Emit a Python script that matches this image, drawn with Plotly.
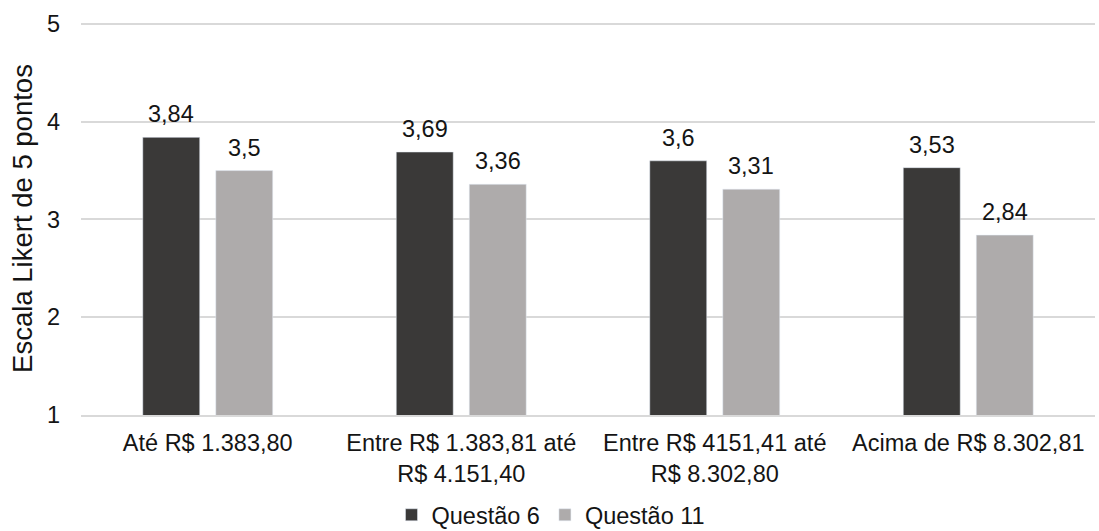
import plotly.graph_objects as go

categories = ["Até R$ 1.383,80", "Entre R$ 1.383,81 até<br>R$ 4.151,40",
              "Entre R$ 4151,41 até<br>R$ 8.302,80", "Acima de R$ 8.302,81"]
questao6 = [3.84, 3.69, 3.6, 3.53]
questao11 = [3.5, 3.36, 3.31, 2.84]
labels6 = ["3,84", "3,69", "3,6", "3,53"]
labels11 = ["3,5", "3,36", "3,31", "2,84"]

font = "Liberation Sans, Arial, sans-serif"
text_color = "#141414"
dark, light = "#3a3938", "#aeabab"

# plot geometry (pixels) used for bar slots and value-label offsets
width, height = 1099, 531
m_l, m_r, m_t, m_b = 81, 4, 22, 116
bargap, bargroupgap = 0.424, 0.22
cat_w = (width - m_l - m_r) / len(categories)
slot = cat_w * (1 - bargap) / 2

fig = go.Figure()
fig.add_trace(go.Bar(name="Questão 6", x=categories, y=questao6, marker_color=dark))
fig.add_trace(go.Bar(name="Questão 11", x=categories, y=questao11, marker_color=light))

# value labels above each bar
for vals, labs, sign in ((questao6, labels6, -1), (questao11, labels11, 1)):
    for c, v, t in zip(categories, vals, labs):
        fig.add_annotation(x=c, y=v, text=t, showarrow=False, xref="x", yref="y",
                           xshift=sign * slot / 2, yanchor="bottom", yshift=8,
                           font=dict(size=23.5, color=text_color, family=font))

fig.update_layout(
    width=width, height=height,
    margin=dict(l=m_l, r=m_r, t=m_t, b=m_b, autoexpand=False),
    plot_bgcolor="white", paper_bgcolor="white",
    font=dict(family=font, size=23.5, color=text_color),
    barmode="group", bargap=bargap, bargroupgap=bargroupgap,
    showlegend=True,
    legend=dict(orientation="h", x=0.4635, xanchor="center", xref="paper",
                y=16 / height, yanchor="middle", yref="container",
                font=dict(size=23.5), traceorder="normal", itemwidth=30),
    yaxis=dict(range=[1, 5.02], tickvals=[1, 2, 3, 4, 5], showgrid=True,
               gridcolor="#d9d9d9", gridwidth=1.7, zeroline=False, automargin=False,
               title=dict(text="Escala Likert de 5 pontos", font=dict(size=27.5), standoff=6),
               ticks="", showline=False, ticklabelstandoff=20),
    xaxis=dict(showline=True, linecolor="#d9d9d9", linewidth=1.7, ticks="",
               ticklabelstandoff=6, automargin=False),
)

fig.write_html("out.html")
